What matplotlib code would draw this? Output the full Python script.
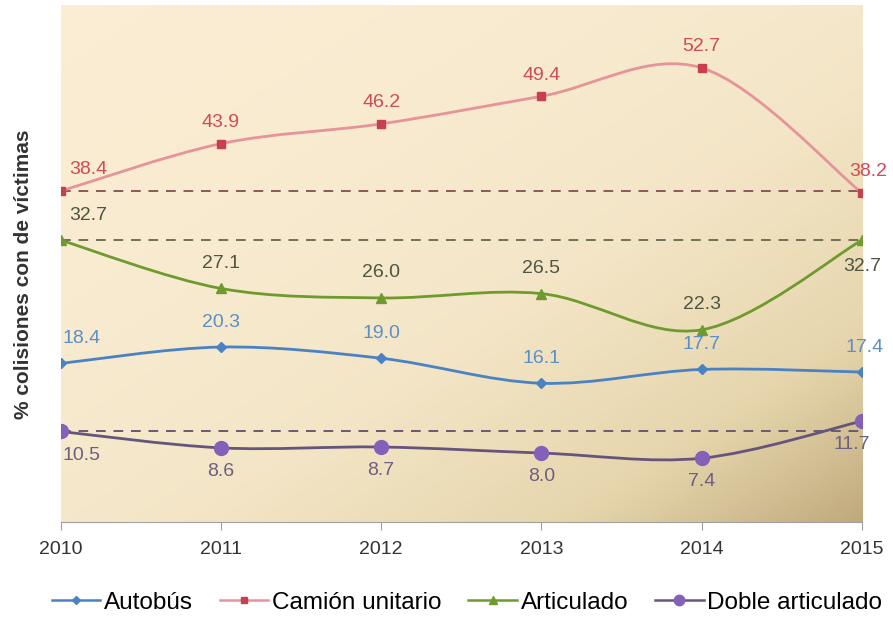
import numpy as np
import matplotlib.pyplot as plt
from matplotlib.path import Path
from matplotlib.patches import PathPatch
from matplotlib.colors import LinearSegmentedColormap
from matplotlib.lines import Line2D

plt.rcParams["font.family"] = ["Liberation Sans", "DejaVu Sans"]

years = [2010, 2011, 2012, 2013, 2014, 2015]
autobus = [18.4, 20.3, 19.0, 16.1, 17.7, 17.4]
camion = [38.4, 43.9, 46.2, 49.4, 52.7, 38.2]
articulado = [32.7, 27.1, 26.0, 26.5, 22.3, 32.7]
doble = [10.5, 8.6, 8.7, 8.0, 7.4, 11.7]
series_names = ["Autobús", "Camión unitario", "Articulado", "Doble articulado"]
ref_levels = [38.4, 32.7, 10.5]


def smooth_path(xs, ys, tension=1 / 6):
    # Catmull-Rom style bezier, like office "smoothed line"
    xs = np.asarray(xs, float)
    ys = np.asarray(ys, float)
    pts = np.column_stack([xs, ys])
    verts = [pts[0]]
    codes = [Path.MOVETO]
    n = len(pts)
    for i in range(n - 1):
        p0 = pts[i - 1] if i > 0 else pts[i]
        p1 = pts[i]
        p2 = pts[i + 1]
        p3 = pts[i + 2] if i + 2 < n else pts[i + 1]
        c1 = p1 + (p2 - p0) * tension
        c2 = p2 - (p3 - p1) * tension
        verts += [c1, c2, p2]
        codes += [Path.CURVE4] * 3
    return Path(verts, codes)


fig = plt.figure(figsize=(8.93, 6.17), dpi=100)
ax = fig.add_axes([0.068, 0.154, 0.897, 0.838])
ax.set_xlim(2010, 2015)

# gradient background
gx, gy = np.meshgrid(np.linspace(0, 1, 300), np.linspace(0, 1, 200))
t = 0.6 * gx + 0.6 * gy
t = np.clip(t / 1.2, 0, 1) ** 2.0
bg = LinearSegmentedColormap.from_list("bg", ["#FBEDD3", "#F3E5C6", "#E6D5AC", "#C0AA7C"])
ax.imshow(t, cmap=bg, extent=[2010, 2015, 0, 60], origin="upper", aspect="auto", zorder=0,
          interpolation="bilinear", vmin=0, vmax=1)
ax.set_ylim(0, 60)

for lvl, c in zip(ref_levels, ["#8A5A5A", "#707052", "#6A5A70"]):
    ax.plot([years[0], years[-1]], [lvl, lvl], ls=(0, (5, 4)), color=c, lw=1.4, zorder=2)

styles = [
    (autobus, "#4A82C4", "#4A82C4", "D", 5, "#5B8FC8"),
    (camion, "#E6939A", "#C8404F", "s", 6, "#D04A58"),
    (articulado, "#6E9A2E", "#6E9A2E", "^", 7, "#4F5540"),
    (doble, "#66557A", "#8560B8", "o", 10, "#6B6080"),
]
handles = []
for (vals, lc, mc, mk, ms, tc), name in zip(styles, series_names):
    ax.add_patch(PathPatch(smooth_path(years, vals), fill=False, edgecolor=lc, lw=2, zorder=3))
    ax.plot(years, vals, ls="none", marker=mk, color=mc, ms=ms, zorder=4)
    handles.append(Line2D([], [], color=lc, lw=1.8, marker=mk, markerfacecolor=mc,
                          markeredgecolor=mc, ms=ms * 0.75))

lab = dict(fontsize=14, ha="center", va="center", zorder=5)
off = 2.9
# Camión unitario labels
for i, v in enumerate(camion):
    dx = {0: 0.17, 5: 0.04}.get(i, 0)
    ax.text(years[i] + dx, v + off * 0.85, f"{v:.1f}", color=styles[1][5], **lab)
# Articulado labels
for i, v in enumerate(articulado):
    if i == 5:
        ax.text(years[i], v - off * 1.05, f"{v:.1f}", color=styles[2][5], **lab)
    else:
        dx = 0.17 if i == 0 else 0
        ax.text(years[i] + dx, v + off, f"{v:.1f}", color=styles[2][5], **lab)
# Autobús labels
for i, v in enumerate(autobus):
    dx = {0: 0.13, 5: 0.02}.get(i, 0)
    ax.text(years[i] + dx, v + off, f"{v:.1f}", color=styles[0][5], **lab)
# Doble articulado labels
for i, v in enumerate(doble):
    dx = {0: 0.13, 5: -0.06}.get(i, 0)
    ax.text(years[i] + dx, v - off * 0.95, f"{v:.1f}", color=styles[3][5], **lab)

for s in ["top", "right", "left"]:
    ax.spines[s].set_visible(False)
ax.spines["bottom"].set_color("#A0A0A0")
ax.set_yticks([])
ax.set_xticks(years)
ax.set_xticklabels([str(y) for y in years])
ax.tick_params(axis="x", length=6, color="#A0A0A0", labelsize=14, labelcolor="#333333", pad=8)
ax.set_ylabel("% colisiones con de víctimas", fontsize=15, fontweight="bold", color="#333333")
ax.yaxis.set_label_coords(-0.035, 0.48)

fig.legend(handles, series_names, loc="lower center", bbox_to_anchor=(0.523, -0.03), ncol=4,
           frameon=False, fontsize=17.5, handlelength=2.0, handletextpad=0.15, columnspacing=1.1)

fig.savefig("out.png", dpi=100)
